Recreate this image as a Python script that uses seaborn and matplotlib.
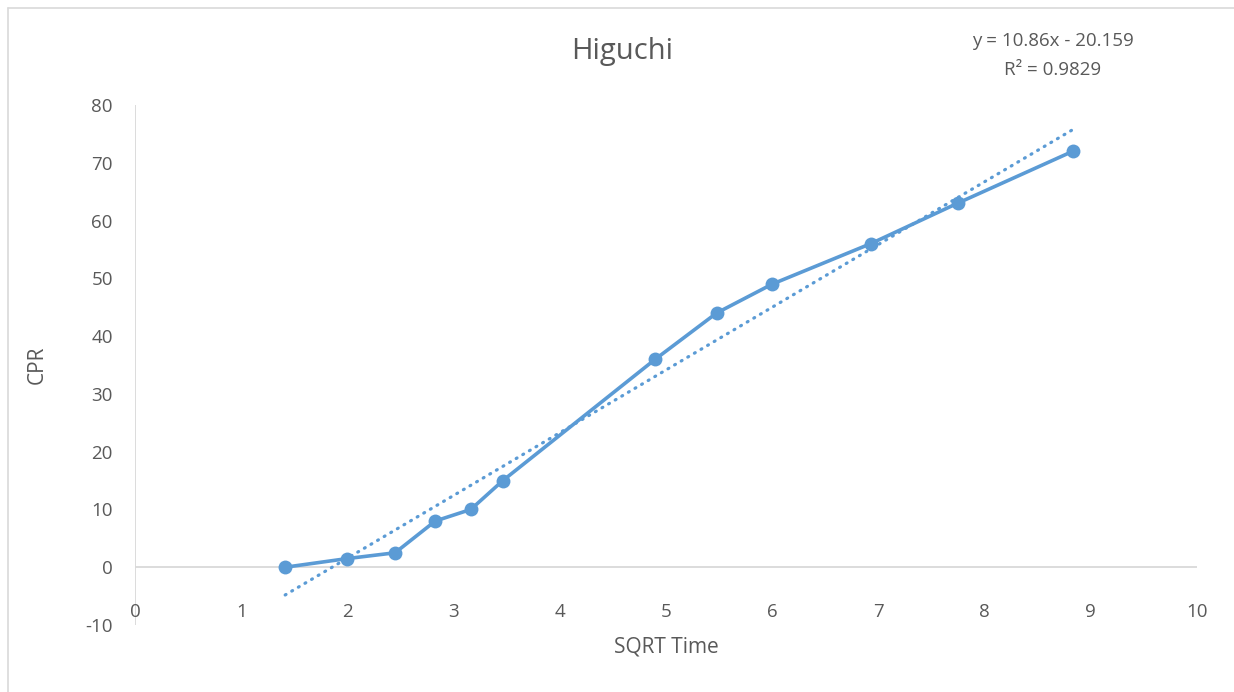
import matplotlib
matplotlib.use("Agg")
import matplotlib.pyplot as plt
from matplotlib.lines import Line2D
import matplotlib.transforms as mtrans
import seaborn as sns
import numpy as np
import pandas as pd

sqrt_time = [1.414, 2.0, 2.449, 2.828, 3.162, 3.464, 4.899, 5.477, 6.0, 6.928, 7.746, 8.832]
cpr = [0, 1.5, 2.5, 8, 10, 15, 36, 44, 49, 56, 63, 72]
slope = 10.86
intercept = -20.159
r2_text = "R² = 0.9829"
eq_text = "y = 10.86x - 20.159"
title = "Higuchi"
x_label = "SQRT Time"
y_label = "CPR"
x_ticks = [0, 1, 2, 3, 4, 5, 6, 7, 8, 9, 10]
y_ticks = [-10, 0, 10, 20, 30, 40, 50, 60, 70, 80]

sns.set_theme(style="white")
plt.rcParams['font.family'] = ['Open Sans', 'DejaVu Sans']
plt.rcParams['axes.unicode_minus'] = False

color = "#5B9BD5"
text_color = "#595959"
axis_color = "#D9D9D9"

fig = plt.figure(figsize=(12.34, 6.92), dpi=100)
ax = fig.add_axes([135/1234, 1-625/692, (1197-135)/1234, (625-105)/692])

df = pd.DataFrame({"x": sqrt_time, "y": cpr})
xs = np.array([sqrt_time[0], sqrt_time[-1]])
trend = pd.DataFrame({"x": xs, "y": slope * xs + intercept})

sns.lineplot(data=trend, x="x", y="y", ax=ax, color=color, linewidth=2.3,
             linestyle=(0, (0.3, 2.1)), dash_capstyle="round", sort=False)
sns.lineplot(data=df, x="x", y="y", ax=ax, color=color, linewidth=2.6,
             marker="o", markersize=10, markeredgewidth=0, sort=False)

ax.set_xlim(0, 10)
ax.set_ylim(-10, 80)
ax.set_xticks(x_ticks)
ax.set_yticks(y_ticks)
for s in ax.spines.values():
    s.set_visible(False)
ax.axhline(0, color=axis_color, linewidth=1.3, zorder=0)
ax.axvline(0, color=axis_color, linewidth=1.3, zorder=0)
ax.tick_params(axis="both", length=0, labelsize=13.5, labelcolor=text_color)
ax.tick_params(axis="y", pad=16)
ax.tick_params(axis="x", pad=0)
for lbl in ax.get_xticklabels():
    lbl.set_transform(lbl.get_transform() + mtrans.ScaledTranslation(0, (625 - 598) / 100 - 0.05, fig.dpi_scale_trans))

ax.set_xlabel("")
ax.set_ylabel("")
fig.text(666/1234, 1-647/692, x_label, ha="center", va="center", fontsize=15, color=text_color)
fig.text(37/1234, 1-365/692, y_label, ha="center", va="center", fontsize=15, color=text_color, rotation=90)
fig.text(622/1234, 1-52/692, title, ha="center", va="center", fontsize=21, color=text_color)
fig.text(1053/1234, 1-41/692, eq_text, ha="center", va="center", fontsize=13.5, color=text_color)
fig.text(1053/1234, 1-70/692, r2_text, ha="center", va="center", fontsize=13.5, color=text_color)

fig.add_artist(Line2D([7.5/1234, 1], [1-7.5/692, 1-7.5/692], color=axis_color, linewidth=1.2, transform=fig.transFigure))
fig.add_artist(Line2D([7.5/1234, 7.5/1234], [0, 1-7.5/692], color=axis_color, linewidth=1.2, transform=fig.transFigure))

fig.savefig("out.png", dpi=100)
